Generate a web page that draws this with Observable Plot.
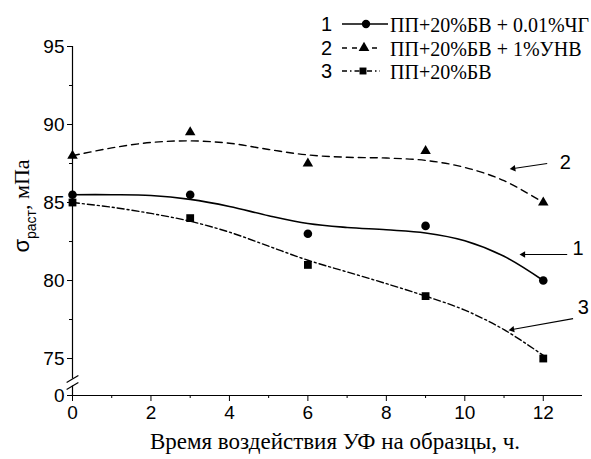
<!DOCTYPE html>
<html>
<head>
<meta charset="utf-8">
<script src="https://cdn.jsdelivr.net/npm/d3@7"></script>
<script src="https://cdn.jsdelivr.net/npm/@observablehq/plot@0.6"></script>
<style>
  html, body { margin: 0; padding: 0; background: #fff; }
  #wrap { position: relative; width: 591px; height: 459px; }
  #legend { position: absolute; left: 0; top: 0; width: 591px; height: 90px; pointer-events: none; }
  .num { position: absolute; font-family: "Liberation Sans", Arial, sans-serif; font-size: 20px; line-height: 22px; }
  .lab { position: absolute; font-family: "Liberation Serif", "Times New Roman", serif; font-size: 20px; line-height: 22px; white-space: nowrap; }
  .smp { position: absolute; }
</style>
</head>
<body>
<div id="wrap"><div id="legend"></div></div>
<script>
// ---- data ----
const hours = [0, 3, 6, 9, 12];
const s1 = [85.5, 85.5, 83.0, 83.5, 80.0];   // ПП+20%БВ + 0.01%ЧГ (circles)
const s2 = [88.0, 89.5, 87.5, 88.3, 85.0];   // ПП+20%БВ + 1%УНВ (triangles)
const s3 = [85.0, 84.0, 81.0, 79.0, 75.0];   // ПП+20%БВ (squares)

// fitted curves
const fitX = [0, 1, 2, 3, 4, 5, 6, 7, 8, 9, 10, 11, 12];
const fit1 = [85.5, 85.5, 85.45, 85.2, 84.75, 84.15, 83.65, 83.4, 83.25, 83.05, 82.55, 81.55, 80.0];
const fit2 = [88.0, 88.5, 88.85, 88.95, 88.8, 88.4, 88.05, 87.9, 87.85, 87.7, 87.25, 86.4, 85.0];
const fit3 = [85.0, 84.7, 84.3, 83.8, 83.1, 82.2, 81.3, 80.55, 79.8, 79.0, 78.1, 76.85, 75.2];

const seriesNames = ["ПП+20%БВ + 0.01%ЧГ", "ПП+20%БВ + 1%УНВ", "ПП+20%БВ"];
const seriesNums = ["1", "2", "3"];

const xTicks = [0, 2, 4, 6, 8, 10, 12];
const xMinor = [1, 3, 5, 7, 9, 11];
const yTicks = [0, 75, 80, 85, 90, 95];
const yMinor = [77.5, 82.5, 87.5, 92.5];

// annotation arrows (data coordinates)
const annNum = ["2", "1", "3"];
const annX1 = [12.10, 12.61, 12.76];
const annY1 = [87.50, 81.67, 77.56];
const annX2 = [11.24, 11.49, 11.21];
const annY2 = [87.18, 81.67, 76.86];
const annTX = [12.56, 12.89, 13.02];
const annTY = [87.56, 82.05, 78.27];

// ---- broken y axis: map data values onto a continuous display axis ----
const LOW0 = 72.63, LOW1 = 73.01, HIGH = 74;
function yb(v) {
  if (v >= HIGH) return v;
  if (v <= 1) return LOW0 + v * (LOW1 - LOW0);
  return LOW1 + (v - 1) * (HIGH - LOW1) / (HIGH - 1);
}

const W = 591, H = 459, ML = 72, MR = 9, MT = 46, MB = 64;
const XD = [0, 13], YD = [LOW0, 95];
const kx = (W - ML - MR) / (XD[1] - XD[0]);
const ky = (H - MT - MB) / (YD[1] - YD[0]);

// ---- build tables ----
const pts = (ys) => hours.map((h, i) => ({x: h, y: yb(ys[i])}));
const fit = (ys) => fitX.map((h, i) => ({x: h, y: yb(ys[i])}));
const ann = annNum.map((n, i) => {
  const dxp = (annX2[i] - annX1[i]) * kx;
  const dyp = -(yb(annY2[i]) - yb(annY1[i])) * ky;
  const rot = Math.atan2(dxp, -dyp) * 180 / Math.PI;
  return {n, x1: annX1[i], y1: yb(annY1[i]), x2: annX2[i], y2: yb(annY2[i]), tx: annTX[i], ty: yb(annTY[i]), rot};
});

const axisSegs = [{x: 0, y1: yb(0), y2: yb(17.6)}, {x: 0, y1: yb(50.8), y2: yb(95)}];
const breaks = [
  {x1: -0.15, x2: 0.15, y1: yb(1), y2: yb(34.2)},
  {x1: -0.15, x2: 0.15, y1: yb(34.2), y2: yb(67.4)}
];
const yTickPos = yTicks.map(yb);
const yMinorPos = yMinor.map(yb);

const plot = Plot.plot({
  width: W,
  height: H,
  marginLeft: ML,
  marginRight: MR,
  marginTop: MT,
  marginBottom: MB,
  style: {fontFamily: "'Liberation Sans', Arial, sans-serif", fontSize: "19px", color: "black", background: "white", overflow: "visible"},
  x: {domain: XD},
  y: {domain: YD},
  marks: [
    Plot.ruleY([LOW0], {x1: 0, x2: 13, stroke: "black", strokeWidth: 1.2}),
    Plot.ruleX(axisSegs, {x: "x", y1: "y1", y2: "y2", stroke: "black", strokeWidth: 1.2}),
    Plot.link(breaks, {x1: "x1", y1: "y1", x2: "x2", y2: "y2", stroke: "black", strokeWidth: 1.2}),
    Plot.axisX(xTicks, {tickSize: 6, tickPadding: 4, label: null, fontSize: 19}),
    Plot.axisX(xMinor, {tickSize: 3, tickFormat: () => "", label: null}),
    Plot.axisY(yTickPos, {tickSize: 5, tickPadding: 3, label: null, fontSize: 19,
      tickFormat: (d) => String(yTicks[yTickPos.indexOf(d)])}),
    Plot.axisY(yMinorPos, {tickSize: 3, tickFormat: () => "", label: null}),
    Plot.line(fit(fit1), {x: "x", y: "y", curve: "catmull-rom", stroke: "black", strokeWidth: 1.6}),
    Plot.line(fit(fit2), {x: "x", y: "y", curve: "catmull-rom", stroke: "black", strokeWidth: 1.4, strokeDasharray: "7,5"}),
    Plot.line(fit(fit3), {x: "x", y: "y", curve: "catmull-rom", stroke: "black", strokeWidth: 1.4, strokeDasharray: "7,3,2,3"}),
    Plot.dot(pts(s1), {x: "x", y: "y", r: 4.3, fill: "black", symbol: "circle"}),
    Plot.dot(pts(s2), {x: "x", y: "y", r: 3.9, fill: "black", symbol: "triangle"}),
    Plot.dot(pts(s3), {x: "x", y: "y", r: 4.4, fill: "black", symbol: "square"}),
    Plot.link(ann, {x1: "x1", y1: "y1", x2: "x2", y2: "y2", stroke: "black", strokeWidth: 1.1}),
    Plot.dot(ann, {x: "x2", y: "y2", symbol: "triangle", r: 2.4, rotate: "rot", fill: "black", dx: 0}),
    Plot.text(ann, {x: "tx", y: "ty", text: "n", fontSize: 20, fill: "black"})
  ]
});

// y-axis label with subscript
const svg = d3.select(plot);
const yl = svg.append("text")
  .attr("transform", "translate(29,206) rotate(-90)")
  .attr("text-anchor", "middle")
  .attr("fill", "black");
yl.append("tspan").attr("font-family", "'Liberation Sans', Arial, sans-serif").attr("font-size", 22).text("σ");
yl.append("tspan").attr("font-family", "'Liberation Sans', Arial, sans-serif").attr("font-size", 14).attr("dy", 7).text("раст");
yl.append("tspan").attr("font-family", "'Liberation Serif', 'Times New Roman', serif").attr("font-size", 22).attr("dy", -7).text(", мПа");

// x-axis label
svg.append("text")
  .attr("x", 335).attr("y", 449)
  .attr("text-anchor", "middle")
  .attr("font-family", "'Liberation Serif', 'Times New Roman', serif")
  .attr("font-size", 23)
  .attr("fill", "black")
  .text("Время воздействия УФ на образцы, ч.");

document.getElementById("wrap").prepend(plot);

// legend overlay
const legend = d3.select("#legend");
const rowsC = [24, 47.5, 71];
const samples = [
  {dash: null, sym: d3.symbolCircle, size: 55, x2: 47, cx: 25},
  {dash: "5,5", sym: d3.symbolTriangle, size: 50, x2: 37, cx: 23},
  {dash: "5,3,1.5,3", sym: d3.symbolSquare, size: 48, x2: 39, cx: 22}
];
seriesNames.forEach((name, i) => {
  const top = rowsC[i] - 11;
  legend.append("span").attr("class", "num").style("left", "321px").style("top", top + "px").text(seriesNums[i]);
  const s = legend.append("svg").attr("class", "smp").attr("width", 50).attr("height", 22)
    .style("left", "341px").style("top", top + "px");
  const ln = s.append("line").attr("x1", 1).attr("x2", samples[i].x2).attr("y1", 11).attr("y2", 11)
    .attr("stroke", "black").attr("stroke-width", 1.5);
  if (samples[i].dash) ln.attr("stroke-dasharray", samples[i].dash);
  s.append("path").attr("d", d3.symbol(samples[i].sym, samples[i].size)())
    .attr("transform", `translate(${samples[i].cx},11)`).attr("fill", "black");
  legend.append("span").attr("class", "lab").style("left", "390px").style("top", (top + 1) + "px").text(name);
});
</script>
</body>
</html>
